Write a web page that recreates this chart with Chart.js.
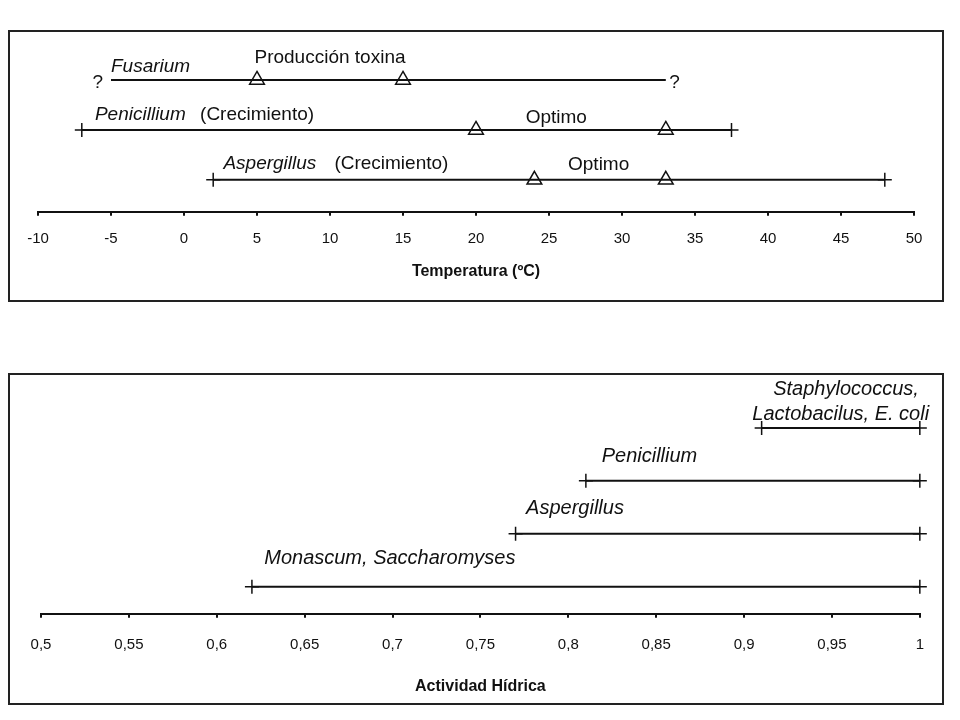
<!DOCTYPE html>
<html>
<head>
<meta charset="utf-8">
<script src="https://cdn.jsdelivr.net/npm/chart.js@4.4.1/dist/chart.umd.min.js"></script>
<style>
  body { margin: 0; background: #fff; }
  .panel { position: absolute; left: 8px; width: 936px; box-sizing: border-box; border: 2px solid #222; }
  #p1 { top: 30px; height: 272px; }
  #p2 { top: 373px; height: 332px; }
  canvas { display: block; }
</style>
</head>
<body>
<div class="panel" id="p1"><canvas id="tempChart" width="932" height="268"></canvas></div>
<div class="panel" id="p2"><canvas id="awChart" width="932" height="328"></canvas></div>
<script>
// Temperature ranges (rows top to bottom)
const tempRows = ["Fusarium", "Penicillium", "Aspergillus"];
const tempStart = [-5, -7, 2];
const tempEnd = [33, 37.5, 48];
const tempMarkLow = [5, 20, 24];
const tempMarkHigh = [15, 33, 33];
const tempTicks = [-10, -5, 0, 5, 10, 15, 20, 25, 30, 35, 40, 45, 50];

// Water activity ranges (rows top to bottom)
const awRows = ["Staphylococcus, Lactobacilus, E. coli", "Penicillium", "Aspergillus", "Monascum, Saccharomyses"];
const awMin = [0.91, 0.81, 0.77, 0.62];
const awMax = [1, 1, 1, 1];
const awTicks = [0.5, 0.55, 0.6, 0.65, 0.7, 0.75, 0.8, 0.85, 0.9, 0.95, 1];

// text notes: x value, row index, pixel lift above the row line
const tempNotes = [
  { text: "?", x: -5.9, row: 0, lift: -3, align: "center" },
  { text: "?", x: 33.6, row: 0, lift: -3, align: "center" },
  { text: "Fusarium", italic: true, x: -5, row: 0, lift: 13, align: "left" },
  { text: "Producción toxina", x: 10, row: 0, lift: 22, align: "center" },
  { text: "Penicillium", italic: true, x: -6.1, row: 1, lift: 15, align: "left" },
  { text: "(Crecimiento)", x: 1.1, row: 1, lift: 15, align: "left" },
  { text: "Optimo", x: 25.5, row: 1, lift: 12, align: "center" },
  { text: "Aspergillus", italic: true, x: 2.7, row: 2, lift: 16, align: "left" },
  { text: "(Crecimiento)", x: 10.3, row: 2, lift: 16, align: "left" },
  { text: "Optimo", x: 28.4, row: 2, lift: 15, align: "center" }
];
const awNotes = [
  { text: "Staphylococcus,", italic: true, x: 0.958, row: 0, lift: 38, align: "center" },
  { text: "Lactobacilus, E. coli", italic: true, x: 0.955, row: 0, lift: 13, align: "center" },
  { text: "Penicillium", italic: true, x: 0.819, row: 1, lift: 24, align: "left" },
  { text: "Aspergillus", italic: true, x: 0.776, row: 2, lift: 25, align: "left" },
  { text: "Monascum, Saccharomyses", italic: true, x: 0.627, row: 3, lift: 28, align: "left" }
];

const FONT = "'Liberation Sans', Arial, sans-serif";

const notesPlugin = {
  id: "notes",
  afterDatasetsDraw(chart, args, opts) {
    const ctx = chart.ctx;
    const xs = chart.scales.x, ys = chart.scales.y;
    const n = opts.rowCount;
    ctx.save();
    ctx.fillStyle = "#111";
    ctx.textBaseline = "middle";
    opts.items.forEach(note => {
      ctx.font = (note.italic ? "italic " : "") + opts.size + "px " + FONT;
      ctx.textAlign = note.align;
      ctx.fillText(note.text, xs.getPixelForValue(note.x),
        ys.getPixelForValue(n - 1 - note.row) - note.lift);
    });
    ctx.restore();
  }
};

function buildChart(id, rows, lo, hi, marks, ticks, range, title, layout, notes, size) {
  const n = rows.length;
  const datasets = rows.map((name, i) => ({
    label: name,
    data: [{ x: lo[i], y: n - 1 - i }, { x: hi[i], y: n - 1 - i }],
    showLine: true,
    clip: false,
    borderColor: "#111",
    borderWidth: 2,
    pointStyle: "cross",
    pointRadius: name === "Fusarium" ? 0 : 7,
    pointBorderColor: "#111",
    pointBorderWidth: 1.5
  }));
  if (marks) {
    const pts = [];
    rows.forEach((name, i) => {
      pts.push({ x: marks[0][i], y: n - 1 - i });
      pts.push({ x: marks[1][i], y: n - 1 - i });
    });
    datasets.push({
      label: "marks",
      data: pts,
      showLine: false,
      clip: false,
      pointStyle: "triangle",
      pointRadius: 8.5,
      pointBackgroundColor: "#fff",
      pointBorderColor: "#111",
      pointBorderWidth: 1.5
    });
  }
  return new Chart(document.getElementById(id), {
    type: "scatter",
    data: { datasets: datasets },
    plugins: [notesPlugin],
    options: {
      responsive: false,
      animation: false,
      layout: { padding: layout.padding },
      plugins: {
        legend: { display: false },
        tooltip: { enabled: false },
        notes: { items: notes, rowCount: n, size: size }
      },
      scales: {
        x: {
          type: "linear",
          min: ticks[0],
          max: ticks[ticks.length - 1],
          afterBuildTicks: s => { s.ticks = ticks.map(v => ({ value: v })); },
          border: { display: true, color: "#111", width: 2 },
          grid: { drawOnChartArea: false, drawTicks: true, tickLength: 4, color: "#111", lineWidth: 2 },
          ticks: {
            padding: layout.tickPad,
            color: "#111",
            font: { family: FONT, size: 15 },
            maxRotation: 0,
            autoSkip: false,
            callback: v => String(v).replace(".", ",")
          },
          title: {
            display: true,
            text: title,
            color: "#111",
            font: { family: FONT, size: 16, weight: "bold" },
            padding: { top: layout.titlePad, bottom: 0 }
          }
        },
        y: { type: "linear", display: false, min: range[0], max: range[1] }
      }
    }
  });
}

buildChart("tempChart", tempRows, tempStart, tempEnd, [tempMarkLow, tempMarkHigh], tempTicks,
  [-0.64, 2.76], "Temperatura (ºC)",
  { padding: { left: 28, right: 28, top: 10, bottom: 19 }, tickPad: 14, titlePad: 0 },
  tempNotes, 19);

buildChart("awChart", awRows, awMin, awMax, null, awTicks,
  [-0.51, 3.81], "Actividad Hídrica",
  { padding: { left: 31, right: 22, top: 10, bottom: 7 }, tickPad: 18, titlePad: 5 },
  awNotes, 20);
</script>
</body>
</html>
